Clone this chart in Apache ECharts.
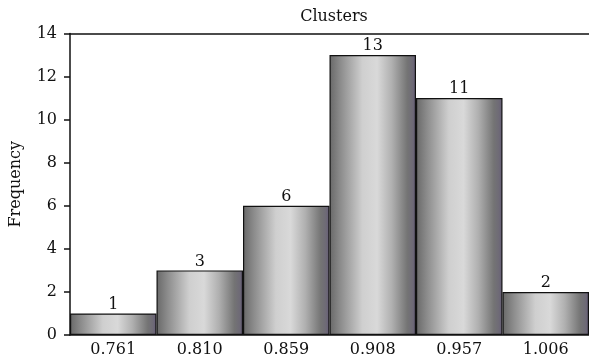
<!DOCTYPE html>
<html>
<head>
<meta charset="utf-8">
<script src="https://cdn.jsdelivr.net/npm/echarts@6/dist/echarts.min.js"></script>
<style>
  html, body { margin: 0; padding: 0; background: #fff; }
  #chart { width: 589px; height: 362px; }
</style>
</head>
<body>
<div id="chart"></div>
<script>
// Histogram bins and their counts
const binLabels = ['0.761', '0.810', '0.859', '0.908', '0.957', '1.006'];
const frequencies = [1, 3, 6, 13, 11, 2];
const yTicks = { min: 0, max: 14, step: 2 };

const FONT = '"DejaVu Serif", "Liberation Serif", serif';

// Cylinder-like shading across each bar
const barFill = new echarts.graphic.LinearGradient(0, 0, 1, 0, [
  { offset: 0, color: '#686868' },
  { offset: 0.12, color: '#8a8a8a' },
  { offset: 0.38, color: '#cfcfcf' },
  { offset: 0.55, color: '#d9d9d9' },
  { offset: 0.72, color: '#b0b0b0' },
  { offset: 0.9, color: '#747474' },
  { offset: 0.96, color: '#6e6a76' },
  { offset: 1, color: '#645a78' }
]);

const chart = echarts.init(document.getElementById('chart'), null, { renderer: 'canvas' });
chart.setOption({
  animation: false,
  backgroundColor: '#ffffff',
  title: {
    text: 'Clusters',
    left: 329, top: 4, textAlign: 'center',
    textStyle: { fontFamily: FONT, fontSize: 16, fontWeight: 'normal', color: '#111' }
  },
  grid: { left: 69, right: 0, top: 33.5, bottom: 27, containLabel: false },
  xAxis: [{
    type: 'category',
    data: binLabels,
    boundaryGap: true,
    axisLine: { lineStyle: { color: '#111', width: 1.5 } },
    axisTick: { show: false },
    axisLabel: { fontFamily: FONT, fontSize: 16, color: '#111', margin: 7 },
    splitLine: { show: false }
  }, {
    type: 'category',
    position: 'top',
    data: binLabels,
    axisLine: { lineStyle: { color: '#111', width: 1.5 } },
    axisTick: { show: false },
    axisLabel: { show: false }
  }],
  yAxis: {
    type: 'value',
    min: yTicks.min, max: yTicks.max, interval: yTicks.step,
    name: 'Frequency',
    nameLocation: 'middle',
    nameGap: 46,
    nameTextStyle: { fontFamily: FONT, fontSize: 16, color: '#111' },
    axisLine: { show: true, lineStyle: { color: '#111', width: 1.5 } },
    axisTick: { show: true, length: 6, lineStyle: { color: '#111', width: 1.5 } },
    axisLabel: { fontFamily: FONT, fontSize: 16, color: '#111', margin: 13 },
    splitLine: { show: false }
  },
  series: [{
    type: 'bar',
    data: frequencies,
    barWidth: '100%',
    barCategoryGap: 0,
    itemStyle: { color: barFill, borderColor: '#111', borderWidth: 1.2 },
    label: {
      show: true, position: 'top', distance: 1,
      fontFamily: FONT, fontSize: 16, color: '#111'
    }
  }]
});
</script>
</body>
</html>
